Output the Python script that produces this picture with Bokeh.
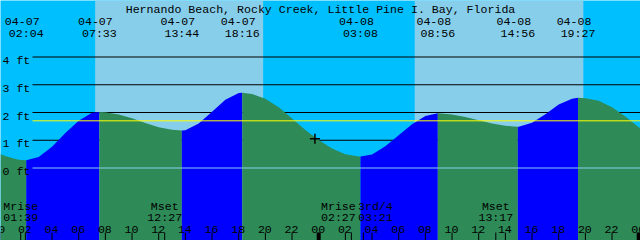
import numpy as np
from bokeh.plotting import figure
from bokeh.models import Range1d, ColumnDataSource
from bokeh.core.properties import value
from bokeh.embed import file_html
from bokeh.resources import INLINE

# ---------------- data ----------------
TITLE = "Hernando Beach, Rocky Creek, Little Pine I. Bay, Florida"

# tide height samples (hours after 04-07 00:00, feet)
tide_hours = [0.135, 0.5, 1.0, 1.5, 2.067, 3, 4, 5, 6, 7, 7.55,
              8, 9, 10, 11, 12, 13, 13.733,
              14, 15, 16, 17, 18, 18.267,
              19, 20, 21, 22, 23, 24, 25, 26, 27, 27.133,
              28, 29, 30, 31, 32, 32.933,
              33, 34, 35, 36, 37, 38, 38.933,
              39, 40, 41, 42, 43, 43.45,
              44, 45, 46, 47, 48, 48.135]
tide_ft = [0.50, 0.43, 0.36, 0.30, 0.28, 0.40, 0.77, 1.26, 1.70, 1.99, 2.02,
           2.01, 1.93, 1.79, 1.62, 1.47, 1.38, 1.35,
           1.36, 1.60, 2.03, 2.46, 2.70, 2.71,
           2.67, 2.50, 2.19, 1.78, 1.37, 1.01, 0.70, 0.50, 0.41, 0.41,
           0.49, 0.78, 1.18, 1.58, 1.87, 1.97,
           1.97, 1.93, 1.84, 1.72, 1.60, 1.52, 1.49,
           1.49, 1.63, 1.94, 2.29, 2.50, 2.53,
           2.51, 2.42, 2.19, 1.86, 1.47, 1.43]

extreme_dates = ["04-07", "04-07", "04-07", "04-07", "04-08", "04-08", "04-08", "04-08"]
extreme_times = ["02:04", "07:33", "13:44", "18:16", "03:08", "08:56", "14:56", "19:27"]

sunrise = [("04-07", "07:14"), ("04-08", "07:12")]
sunset = [("04-07", "19:50"), ("04-08", "19:51")]

moon_events = ["Mrise", "Mset", "Mrise", "3rd/4", "Mset"]
moon_dates = ["04-07", "04-07", "04-08", "04-08", "04-08"]
moon_times = ["01:39", "12:27", "02:27", "03:21", "13:17"]

mean_level_ft = 1.70
now_mark = ("04-07", "23:43", 1.05)

height_ticks_ft = [0, 1, 2, 3, 4]
hour_ticks = list(range(0, 50, 2))
hour_labels = ["%02d" % (h % 24) for h in hour_ticks]

# ---------------- layout helpers ----------------
W, H = 640, 240
PX_PER_HOUR = 640.0 / 48.0
HOUR0_PX = -1.8
PX_PER_FT = 27.75
ZERO_PX = 167.5

X0 = (0 - HOUR0_PX) / PX_PER_HOUR
X1 = (W - HOUR0_PX) / PX_PER_HOUR
Y1 = ZERO_PX / PX_PER_FT
Y0 = (ZERO_PX - H) / PX_PER_FT


def px_ft(py):
    return (ZERO_PX - py) / PX_PER_FT


def px_h(px):
    return (px - HOUR0_PX) / PX_PER_HOUR


def to_hours(d, t):
    day = int(d[3:]) - 7
    hh, mm = t.split(":")
    return 24 * day + int(hh) + int(mm) / 60.0


FONT = value("Liberation Mono")
FS = "11.6px"

p = figure(width=W, height=H, x_range=Range1d(X0, X1), y_range=Range1d(Y0, Y1),
           output_backend="svg", toolbar_location=None, min_border=0,
           x_axis_type=None, y_axis_type=None,
           background_fill_color="#00BFFF", border_fill_color="#00BFFF")
p.grid.visible = False
p.outline_line_color = None

# daylight
p.quad(left=[to_hours(*s) for s in sunrise], right=[to_hours(*s) for s in sunset],
       bottom=Y0, top=Y1, fill_color="#87CEEB", line_color=None)

# grid lines (behind water)
gx0 = px_h(32)
p.segment(x0=[gx0] * 4, x1=[X1] * 4, y0=height_ticks_ft[1:], y1=height_ticks_ft[1:],
          line_color="black", line_width=1)

# water, split at extremes
th = np.array(tide_hours)
tv = np.array(tide_ft)
ext_h = [to_hours(d, t) for d, t in zip(extreme_dates, extreme_times)]
breaks = [0] + [int(np.argmin(np.abs(th - e))) for e in ext_h] + [len(th) - 1]
for a, b in zip(breaks[:-1], breaks[1:]):
    xs = th[a:b + 1]
    ys = tv[a:b + 1]
    col = "#0000FF" if ys[-1] > ys[0] else "#2E8B57"
    p.varea(x=xs, y1=np.full(len(xs), Y0), y2=ys, fill_color=col)

# datum and mean level lines
p.segment(x0=[gx0], x1=[X1], y0=[0], y1=[0], line_color="#87CEEB", line_width=1)
p.segment(x0=[gx0], x1=[X1], y0=[mean_level_ft], y1=[mean_level_ft],
          line_color="#FFFF00", line_width=1)

# height labels
p.text(x=[X0] * len(height_ticks_ft), y=[f - 3.5 / PX_PER_FT for f in height_ticks_ft],
       text=["%d ft" % f for f in height_ticks_ft], x_offset=2,
       text_font=FONT, text_font_size=FS, text_color="black",
       text_align="left", text_baseline="alphabetic")

# title
p.text(x=[(X0 + X1) / 2], y=[px_ft(9)], text=[TITLE], text_font=FONT, text_font_size=FS,
       text_color="black", text_align="center", text_baseline="alphabetic")

# extreme labels
p.text(x=ext_h, y=[px_ft(21)] * len(ext_h), text=extreme_dates, x_offset=-4,
       text_font=FONT, text_font_size=FS, text_color="black",
       text_align="center", text_baseline="alphabetic")
p.text(x=ext_h, y=[px_ft(33)] * len(ext_h), text=extreme_times,
       text_font=FONT, text_font_size=FS, text_color="black",
       text_align="center", text_baseline="alphabetic")

# moon events
moon_h = [to_hours(d, t) for d, t in zip(moon_dates, moon_times)]
moon_src = ColumnDataSource(dict(x=moon_h, name=moon_events, t=moon_times,
                                 off=[0, 0, -13, 12, 0],
                                 y1=[px_ft(206)] * 5, y2=[px_ft(217)] * 5))
p.text(x="x", y="y1", text="name", x_offset="off", source=moon_src,
       text_font=FONT, text_font_size=FS, text_color="black",
       text_align="center", text_baseline="alphabetic")
p.text(x="x", y="y2", text="t", x_offset="off", source=moon_src,
       text_font=FONT, text_font_size=FS, text_color="black",
       text_align="center", text_baseline="alphabetic")

# hour labels and ticks
p.text(x=hour_ticks, y=[px_ft(229)] * len(hour_ticks), text=hour_labels, x_offset=-0.5,
       text_font=FONT, text_font_size=FS, text_color="black",
       text_align="center", text_baseline="alphabetic")
tick_top = px_ft(232)
p.segment(x0=hour_ticks, x1=hour_ticks, y0=[Y0] * len(hour_ticks), y1=[tick_top] * len(hour_ticks),
          line_color="black", line_width=1)
mid = [h for h in hour_ticks if h % 24 == 0]
p.segment(x0=mid, x1=mid, y0=[Y0] * len(mid), y1=[tick_top] * len(mid),
          line_color="black", line_width=4)
p.segment(x0=moon_h, x1=moon_h, y0=[Y0] * len(moon_h), y1=[tick_top] * len(moon_h),
          line_color="black", line_width=1)

# current-time cross
p.scatter(x=[to_hours(now_mark[0], now_mark[1])], y=[now_mark[2]], marker="cross",
          size=10, line_color="black", line_width=1.5)

open("out.html", "w").write(file_html(p, INLINE))
